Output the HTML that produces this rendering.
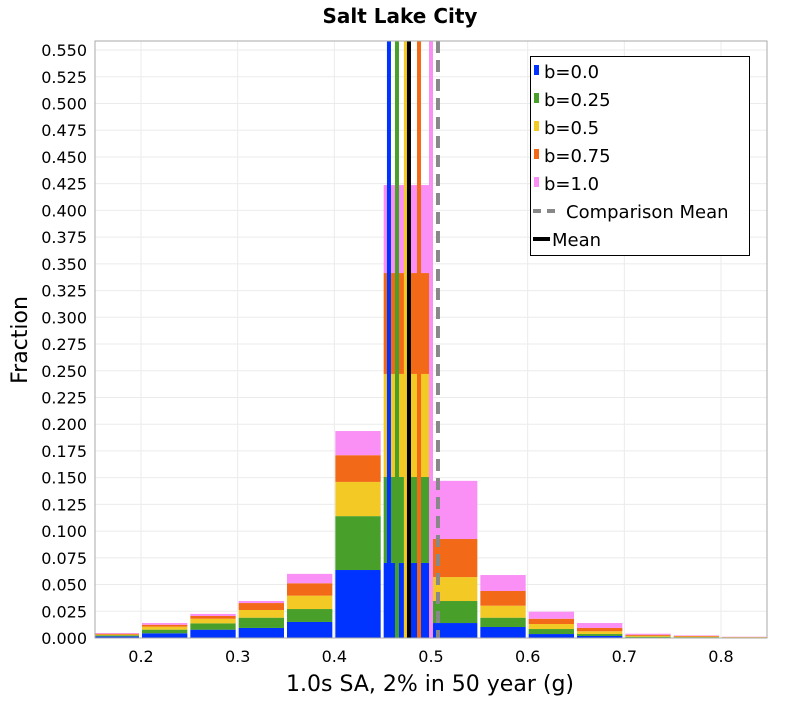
<!DOCTYPE html>
<html><head><meta charset="utf-8"><style>
body{margin:0;background:#fff;}
svg text{font-family:"DejaVu Sans","Liberation Sans",sans-serif;}
</style></head><body>
<svg id="chart" width="800" height="700">
<text x="400" y="23" text-anchor="middle" font-size="20" font-weight="bold">Salt Lake City</text>
<g id="grid"></g>
<g id="bars"></g>
<g id="lines"></g>
<rect x="95" y="41" width="672" height="597" fill="none" stroke="#aaa"/>
<g id="axes"></g>
<text x="430" y="691" text-anchor="middle" font-size="22">1.0s SA, 2% in 50 year (g)</text>
<text transform="translate(27,340) rotate(-90)" text-anchor="middle" font-size="22">Fraction</text>
<g id="legend"></g>
</svg>
<script>
const binStarts=[0.15,0.2,0.25,0.3,0.35,0.4,0.45,0.5,0.55,0.6,0.65,0.7,0.75,0.8];
const seriesNames=["b=0.0","b=0.25","b=0.5","b=0.75","b=1.0"];
const b000=[0.0015,0.0044,0.0078,0.0094,0.015,0.0636,0.0702,0.014,0.0103,0.0037,0.0019,0.0005,0.0003,0.0003];
const b025=[0.001,0.0034,0.0059,0.0096,0.0121,0.0504,0.0804,0.0206,0.0087,0.0047,0.0018,0.0007,0.0005,0.0002];
const b050=[0.0007,0.0028,0.0043,0.0072,0.0125,0.032,0.0964,0.0224,0.0112,0.0047,0.0026,0.0008,0.0005,0.0003];
const b075=[0.0008,0.0018,0.0026,0.0065,0.0116,0.025,0.0944,0.0356,0.0138,0.0049,0.0031,0.001,0.0007,0.0002];
const b100=[0.0007,0.0016,0.0019,0.0019,0.0088,0.0226,0.0823,0.0544,0.0149,0.0066,0.0046,0.001,0.0005,0.0002];
const meanVals=[0.4565,0.4648,0.474,0.4876,0.5];
const overallMean=0.4772;
const comparisonMean=0.5072;
const yTicks=[0,0.025,0.05,0.075,0.1,0.125,0.15,0.175,0.2,0.225,0.25,0.275,0.3,0.325,0.35,0.375,0.4,0.425,0.45,0.475,0.5,0.525,0.55];
const xTicks=[0.2,0.3,0.4,0.5,0.6,0.7,0.8];
const colors=["#0033ff","#48a02a","#f2c925","#f26a17","#fa8ff5"];
const NS="http://www.w3.org/2000/svg";
const X=v=>141+(v-0.2)*966.7;
const Y=v=>638-v*1069;
function mk(t,a,p){const e=document.createElementNS(NS,t);for(const k in a)e.setAttribute(k,a[k]);p.appendChild(e);return e;}
const grid=document.getElementById('grid'),axes=document.getElementById('axes');
yTicks.forEach(t=>{
 const l=mk('line',{x1:95,x2:767,y1:Y(t),y2:Y(t),stroke:'#ebebeb'},grid);
 
 
 const tx=mk('text',{x:87,y:Y(t)+6,'text-anchor':'end','font-size':16},axes);
 tx.textContent=t.toFixed(3);
 
 
});
xTicks.forEach(t=>{
 const l=mk('line',{x1:X(t),x2:X(t),y1:41,y2:638,stroke:'#ebebeb'},grid);
 
 
 const tx=mk('text',{x:X(t),y:662,'text-anchor':'middle','font-size':16},axes);
 tx.textContent=String(t);
 
 
});
const series=[b000,b025,b050,b075,b100];
const bars=document.getElementById('bars');
binStarts.forEach((s,i)=>{
 let cum=0;
 const x0=Math.max(95,X(s)+1),x1=Math.min(767,X(s+0.05)-2);
 series.forEach((arr,j)=>{
  const v=arr[i];
  const r=mk('rect',{x:x0,y:Y(cum+v),width:x1-x0,height:Math.max(0,Y(cum)-Y(cum+v)),fill:colors[j]},bars);
  
  
  cum+=v;
 });
});
const lines=document.getElementById('lines');
meanVals.forEach((m,j)=>{
 const l=mk('line',{x1:X(m),x2:X(m),y1:41,y2:638,stroke:colors[j],'stroke-width':4},lines);
 
 
});
let l=mk('line',{x1:X(comparisonMean),x2:X(comparisonMean),y1:41,y2:638,stroke:'#888','stroke-width':4,'stroke-dasharray':'12,7'},lines);


l=mk('line',{x1:X(overallMean),x2:X(overallMean),y1:41,y2:638,stroke:'#000','stroke-width':4},lines);


const lg=document.getElementById('legend');
const box=mk('rect',{x:530.5,y:56.5,width:219,height:199,fill:'#fff',stroke:'#000'},lg);


seriesNames.forEach((n,j)=>{
 const yy=71+j*28;
 const sw=mk('rect',{x:534,y:yy-6,width:5,height:10,fill:colors[j]},lg);
 
 
 const t=mk('text',{x:544,y:yy+7,'font-size':18},lg);
 t.textContent=n;
 
 
});
let ll=mk('line',{x1:533,x2:561,y1:211,y2:211,stroke:'#888','stroke-width':4,'stroke-dasharray':'8,6'},lg);


let t=mk('text',{x:566,y:218,'font-size':18},lg);t.textContent='Comparison Mean';


ll=mk('line',{x1:533,x2:550,y1:239,y2:239,stroke:'#000','stroke-width':4},lg);


t=mk('text',{x:552,y:246,'font-size':18},lg);t.textContent='Mean';


</script>
</body></html>
